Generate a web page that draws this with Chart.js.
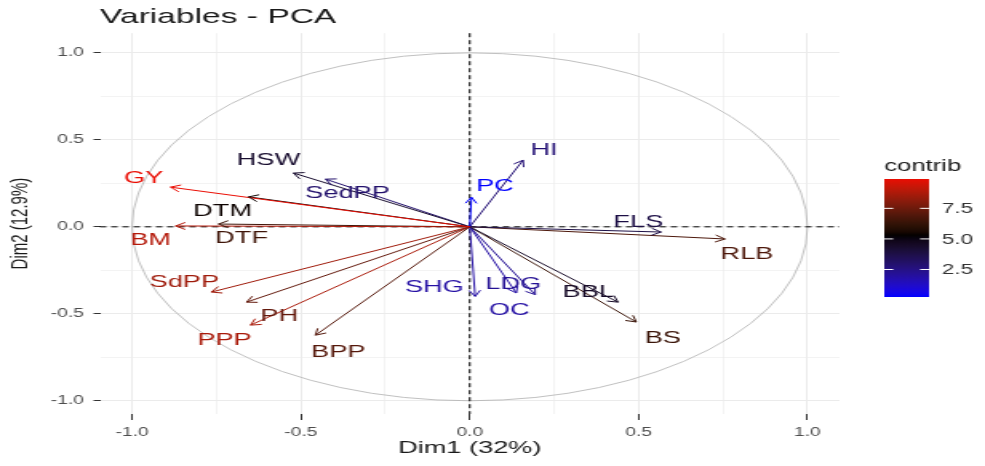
<!DOCTYPE html>
<html>
<head>
<meta charset="utf-8">
<title>Variables - PCA</title>
<script src="https://cdn.jsdelivr.net/npm/chart.js@4.4.1/dist/chart.umd.min.js"></script>
<style>
  body { margin: 0; background: #fff; overflow: hidden; }
  /* the picture is a stretched screenshot, so the canvas is drawn narrow and widened */
  #pca { width: 985px !important; height: 466px !important; }
</style>
</head>
<body>
<canvas id="pca" width="616" height="466"></canvas>
<script>
// PCA variables: coordinates on Dim1 / Dim2 and contribution (%)
const variables = ['GY', 'BM', 'DTM', 'DTF', 'HSW', 'SedPP', 'PC', 'HI', 'FLS', 'RLB',
                   'SHG', 'LDG', 'OC', 'BBL', 'BS', 'SdPP', 'PH', 'PPP', 'BPP'];
const dim1 = [-0.886, -0.871, -0.655, -0.744, -0.522, -0.427, 0.005, 0.158, 0.567, 0.756,
              0.016, 0.194, 0.138, 0.439, 0.493, -0.765, -0.661, -0.649, -0.457];
const dim2 = [0.228, 0.005, 0.172, 0.016, 0.309, 0.274, 0.17, 0.383, -0.03, -0.07,
              -0.40, -0.39, -0.38, -0.433, -0.547, -0.375, -0.433, -0.565, -0.623];
const contrib = [9.9, 8.9, 5.4, 6.5, 4.3, 3.0, 0.25, 2.8, 3.8, 6.8,
                 1.9, 2.2, 1.9, 4.5, 6.4, 8.5, 7.3, 8.7, 7.0];

// where the names were placed (repelled labels)
const labelDim1 = [-0.966, -0.945, -0.732, -0.676, -0.596, -0.362, 0.075, 0.220, 0.499, 0.821,
                   -0.105, 0.129, 0.117, 0.351, 0.572, -0.845, -0.564, -0.726, -0.389];
const labelDim2 = [0.280, -0.076, 0.090, -0.065, 0.383, 0.194, 0.234, 0.441, 0.027, -0.157,
                   -0.347, -0.329, -0.479, -0.375, -0.640, -0.318, -0.513, -0.651, -0.720];

const axisTicks = [-1, -0.5, 0, 0.5, 1];
const minorTicks = [-0.75, -0.25, 0.25, 0.75];
const contribTicks = [2.5, 5, 7.5];

const FONT = '"Liberation Sans", Arial, sans-serif';
Chart.defaults.font.family = FONT;

// colour scale: blue - black - red, interpolated in Lab like ggplot
function toLin(c) { c /= 255; return c <= 0.04045 ? c / 12.92 : Math.pow((c + 0.055) / 1.055, 2.4); }
function fromLin(c) {
    c = c <= 0.0031308 ? 12.92 * c : 1.055 * Math.pow(c, 1 / 2.4) - 0.055;
    return Math.round(Math.max(0, Math.min(1, c)) * 255);
}
function rgbToLab(rgb) {
    const [R, G, B] = rgb.map(toLin);
    const X = (0.4124 * R + 0.3576 * G + 0.1805 * B) / 0.95047;
    const Y = 0.2126 * R + 0.7152 * G + 0.0722 * B;
    const Z = (0.0193 * R + 0.1192 * G + 0.9505 * B) / 1.08883;
    const f = t => t > 0.008856 ? Math.cbrt(t) : 7.787 * t + 16 / 116;
    return [116 * f(Y) - 16, 500 * (f(X) - f(Y)), 200 * (f(Y) - f(Z))];
}
function labToRgb([L, a, b]) {
    const fy = (L + 16) / 116, fx = fy + a / 500, fz = fy - b / 200;
    const fi = t => t * t * t > 0.008856 ? t * t * t : (t - 16 / 116) / 7.787;
    const X = fi(fx) * 0.95047, Y = fi(fy), Z = fi(fz) * 1.08883;
    return [
        fromLin(3.2406 * X - 1.5372 * Y - 0.4986 * Z),
        fromLin(-0.9689 * X + 1.8758 * Y + 0.0415 * Z),
        fromLin(0.0557 * X - 0.2040 * Y + 1.0570 * Z)
    ];
}
const LOW = rgbToLab([0, 0, 255]);
const HIGH = rgbToLab([255, 0, 0]);
const MID = [0, 0, 0];
const cMin = Math.min(...contrib);
const cMax = Math.max(...contrib);
const cMid = contrib.reduce((s, v) => s + v, 0) / contrib.length;
const cHalf = Math.max(cMid - cMin, cMax - cMid);

function colorFor(v) {
    const t = (v - cMid) / cHalf;
    const end = t < 0 ? LOW : HIGH;
    const k = Math.min(1, Math.abs(t));
    const [r, g, b] = labToRgb(MID.map((c, j) => c + (end[j] - c) * k));
    return `rgb(${r},${g},${b})`;
}

const isMajor = v => axisTicks.includes(v);
function fixedTicks(scale) {
    scale.ticks = axisTicks.concat(minorTicks).sort((a, b) => a - b).map(v => ({ value: v }));
}

// unit circle and the dashed zero lines
const circlePlugin = {
    id: 'circle',
    beforeDatasetsDraw(chart) {
        const { ctx, chartArea: a, scales: { x, y } } = chart;
        const cx = x.getPixelForValue(0);
        const cy = y.getPixelForValue(0);
        ctx.save();
        ctx.strokeStyle = '#b0b0b0';
        ctx.lineWidth = 0.8;
        ctx.beginPath();
        ctx.ellipse(cx, cy, x.getPixelForValue(1) - cx, cy - y.getPixelForValue(1), 0, 0, Math.PI * 2);
        ctx.stroke();
        ctx.strokeStyle = '#000';
        ctx.lineWidth = 1;
        ctx.setLineDash([4, 3]);
        ctx.beginPath();
        ctx.moveTo(a.left, cy);
        ctx.lineTo(a.right, cy);
        ctx.moveTo(cx, a.top);
        ctx.lineTo(cx, a.bottom);
        ctx.stroke();
        ctx.restore();
    }
};

// open arrow heads at the end of each segment, then the names
const arrowPlugin = {
    id: 'arrows',
    afterDatasetsDraw(chart) {
        const { ctx, scales: { x, y } } = chart;
        const len = 7;
        ctx.save();
        chart.data.datasets.forEach((ds, i) => {
            const [p0, p1] = chart.getDatasetMeta(i).data;
            const ang = Math.atan2(p1.y - p0.y, p1.x - p0.x);
            ctx.strokeStyle = ds.borderColor;
            ctx.lineWidth = 1;
            ctx.beginPath();
            ctx.moveTo(p1.x - len * Math.cos(ang - Math.PI / 6), p1.y - len * Math.sin(ang - Math.PI / 6));
            ctx.lineTo(p1.x, p1.y);
            ctx.lineTo(p1.x - len * Math.cos(ang + Math.PI / 6), p1.y - len * Math.sin(ang + Math.PI / 6));
            ctx.stroke();
        });
        ctx.font = '17px ' + FONT;
        ctx.textAlign = 'center';
        ctx.textBaseline = 'middle';
        variables.forEach((name, i) => {
            ctx.fillStyle = colorFor(contrib[i]);
            ctx.fillText(name, x.getPixelForValue(labelDim1[i]), y.getPixelForValue(labelDim2[i]));
        });
        ctx.restore();
    }
};

// colour bar legend on the right
const colorbarPlugin = {
    id: 'colorbar',
    afterDraw(chart) {
        const { ctx, chartArea } = chart;
        const left = chartArea.right + 28;
        const width = 28;
        const top = 179;
        const bottom = 297;
        ctx.save();
        const grad = ctx.createLinearGradient(0, bottom, 0, top);
        for (let k = 0; k <= 40; k++) {
            grad.addColorStop(k / 40, colorFor(cMin + (cMax - cMin) * k / 40));
        }
        ctx.fillStyle = grad;
        ctx.fillRect(left, top, width, bottom - top);

        ctx.strokeStyle = '#fff';
        ctx.lineWidth = 1;
        ctx.fillStyle = '#333';
        ctx.font = '14px ' + FONT;
        ctx.textAlign = 'left';
        ctx.textBaseline = 'middle';
        contribTicks.forEach(v => {
            const ty = bottom - (v - cMin) / (cMax - cMin) * (bottom - top);
            ctx.beginPath();
            ctx.moveTo(left, ty);
            ctx.lineTo(left + width / 5, ty);
            ctx.moveTo(left + width, ty);
            ctx.lineTo(left + width * 4 / 5, ty);
            ctx.stroke();
            ctx.fillText(v.toFixed(1), left + width + 8, ty + 1);
        });

        ctx.fillStyle = '#1a1a1a';
        ctx.font = '16px ' + FONT;
        ctx.fillText('contrib', left, 167);
        ctx.restore();
    }
};

const gridStyle = {
    color: '#ebebeb',
    lineWidth: c => isMajor(c.tick.value) ? 1 : 0.6,
    tickColor: c => isMajor(c.tick.value) ? '#333' : 'rgba(0,0,0,0)',
    tickWidth: 1
};

new Chart(document.getElementById('pca'), {
    type: 'scatter',
    data: {
        datasets: variables.map((name, i) => ({
            label: name,
            data: [{ x: 0, y: 0 }, { x: dim1[i], y: dim2[i] }],
            showLine: true,
            borderColor: colorFor(contrib[i]),
            borderWidth: 1,
            pointRadius: 0,
            pointHoverRadius: 0,
            fill: false,
            clip: false
        }))
    },
    options: {
        responsive: false,
        animation: false,
        events: [],
        layout: { padding: { left: 0, right: 91, top: 0, bottom: 0 } },
        plugins: {
            legend: { display: false },
            tooltip: { enabled: false },
            title: {
                display: true,
                text: 'Variables - PCA',
                align: 'start',
                fullSize: false,
                color: '#1a1a1a',
                font: { size: 21, weight: 'normal' },
                padding: { top: 5, bottom: 3 }
            }
        },
        scales: {
            x: {
                type: 'linear',
                min: -1.095,
                max: 1.095,
                afterBuildTicks: fixedTicks,
                afterFit: s => { s.height = 52; },
                border: { display: false },
                grid: { ...gridStyle, tickLength: 6 },
                ticks: {
                    autoSkip: false,
                    maxRotation: 0,
                    padding: 5,
                    color: '#4d4d4d',
                    font: { size: 12 },
                    callback: v => isMajor(v) ? v.toFixed(1) : ''
                },
                title: {
                    display: true,
                    text: 'Dim1 (32%)',
                    color: '#1a1a1a',
                    font: { size: 17 },
                    padding: { top: 0, bottom: 7 }
                }
            },
            y: {
                type: 'linear',
                min: -1.076,
                max: 1.113,
                afterBuildTicks: fixedTicks,
                afterFit: s => { s.width = 62.5; },
                border: { display: false },
                grid: { ...gridStyle, tickLength: 4 },
                ticks: {
                    autoSkip: false,
                    padding: 6,
                    color: '#4d4d4d',
                    font: { size: 12 },
                    callback: v => isMajor(v) ? v.toFixed(1) : ''
                },
                title: {
                    display: true,
                    text: 'Dim2 (12.9%)',
                    color: '#1a1a1a',
                    font: { size: 15 },
                    padding: { top: 3.5, bottom: 0 }
                }
            }
        }
    },
    plugins: [circlePlugin, arrowPlugin, colorbarPlugin]
});
</script>
</body>
</html>
